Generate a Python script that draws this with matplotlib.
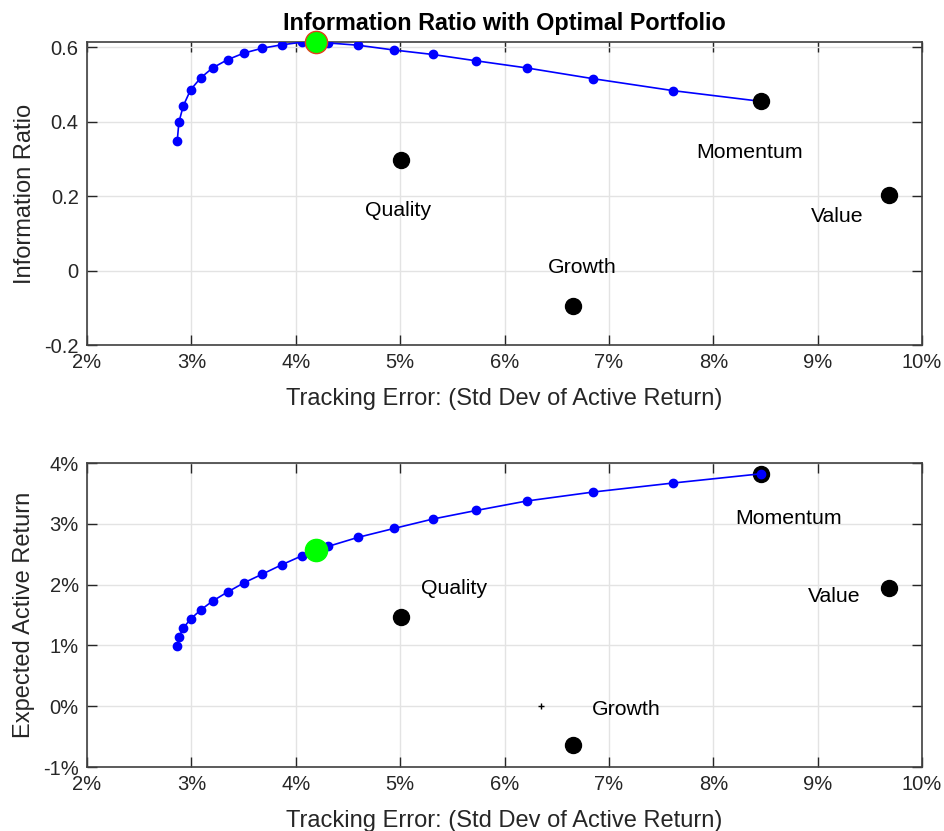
import matplotlib.pyplot as plt
from matplotlib.ticker import FuncFormatter

plt.rcParams['font.family'] = ['Liberation Sans', 'DejaVu Sans']

# efficient frontier (tracking error %, information ratio, expected active return %)
te = [2.864, 2.880, 2.922, 2.992, 3.088, 3.203, 3.346, 3.505, 3.681, 3.866,
      4.060, 4.309, 4.593, 4.941, 5.314, 5.729, 6.211, 6.849, 7.614, 8.462]
ir = [0.347, 0.398, 0.442, 0.485, 0.517, 0.544, 0.566, 0.584, 0.597, 0.606,
      0.613, 0.611, 0.605, 0.592, 0.580, 0.563, 0.544, 0.515, 0.483, 0.454]
er = [0.984, 1.138, 1.286, 1.434, 1.582, 1.730, 1.878, 2.031, 2.174, 2.327,
      2.475, 2.628, 2.776, 2.924, 3.079, 3.220, 3.375, 3.523, 3.671, 3.824]

# single factor portfolios
assets = ['Momentum', 'Value', 'Quality', 'Growth']
asset_te = [8.462, 9.684, 5.005, 6.660]
asset_ir = [0.454, 0.203, 0.297, -0.095]
asset_er = [3.824, 1.949, 1.472, -0.633]

# label positions
lab_top_te = [8.345, 9.187, 4.976, 6.746]
lab_top_ir = [0.318, 0.144, 0.160, 0.009]
lab_bot_te = [8.718, 9.158, 5.512, 7.167]
lab_bot_er = [3.084, 1.801, 1.933, -0.058]

# optimal portfolio
opt_te = 4.198
opt_ir = 0.614
opt_er = 2.574

# stray point on lower chart
stray_te = 6.345
stray_er = 0.0

xticks = [2, 3, 4, 5, 6, 7, 8, 9, 10]
ir_ticks = [-0.2, 0, 0.2, 0.4, 0.6]
er_ticks = [-1, 0, 1, 2, 3, 4]

axcol = '#262626'
pct = FuncFormatter(lambda v, p: '%d%%' % round(v))

fig = plt.figure(figsize=(9.44, 8.31), dpi=100)
ax1 = fig.add_axes([0.0922, 0.5848, 0.8845, 0.3646])
ax2 = fig.add_axes([0.0922, 0.077, 0.8845, 0.3658])


def style(ax):
    ax.grid(True, color='#e3e3e3', linewidth=1)
    ax.set_axisbelow(True)
    for s in ax.spines.values():
        s.set_color('#404040')
        s.set_linewidth(1.2)
    ax.tick_params(direction='in', length=7, width=1, colors=axcol,
                   labelsize=14.5, top=True, right=True, pad=6)
    ax.set_xlim(2, 10)
    ax.set_xticks(xticks)
    ax.xaxis.set_major_formatter(pct)
    ax.set_xlabel('Tracking Error: (Std Dev of Active Return)', fontsize=17,
                  color=axcol, labelpad=11)


# top: information ratio
ax1.plot(te, ir, '-o', color='#0000ff', markersize=6, linewidth=1.2, zorder=3)
ax1.plot(asset_te, asset_ir, 'o', color='black', markersize=11.5, linestyle='none', zorder=4)
ax1.plot([opt_te], [opt_ir], 'o', markerfacecolor='#00ff00', markeredgecolor='#e0401a',
         markeredgewidth=1, markersize=16, zorder=5, clip_on=False)
for name, x, y in zip(assets, lab_top_te, lab_top_ir):
    ax1.text(x, y, name, fontsize=15.3, ha='center', va='center')
style(ax1)
ax1.set_ylim(-0.2, 0.6134)
ax1.set_yticks(ir_ticks)
ax1.set_yticklabels(['-0.2', '0', '0.2', '0.4', '0.6'])
ax1.set_ylabel('Information Ratio', fontsize=17, color=axcol, labelpad=6)
ax1.set_title('Information Ratio with Optimal Portfolio', fontsize=16.8,
              fontweight='bold', pad=9)

# bottom: expected active return
ax2.plot(asset_te, asset_er, 'o', color='black', markersize=11.5, linestyle='none', zorder=3)
ax2.plot(te, er, '-o', color='#0000ff', markersize=6, linewidth=1.2, zorder=4)
ax2.plot([opt_te], [opt_er], 'o', color='#00ff00', markersize=16, zorder=5)
ax2.plot([stray_te], [stray_er], '+', color='black', markersize=4, markeredgewidth=1, zorder=5)
for name, x, y in zip(assets, lab_bot_te, lab_bot_er):
    ax2.text(x, y, name, fontsize=15.3, ha='center', va='center')
style(ax2)
ax2.set_ylim(-1, 4)
ax2.set_yticks(er_ticks)
ax2.yaxis.set_major_formatter(pct)
ax2.set_ylabel('Expected Active Return', fontsize=17, color=axcol, labelpad=6)

fig.savefig('out.png', dpi=100)
